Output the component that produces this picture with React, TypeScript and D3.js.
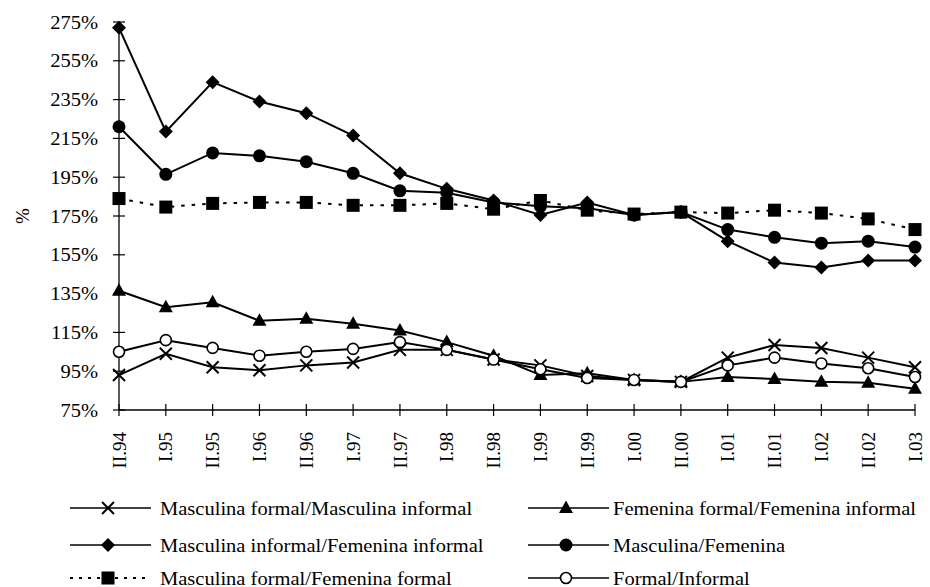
import React from "react";
import * as d3 from "d3";

const categories = ["II.94","I.95","II.95","I.96","II.96","I.97","II.97","I.98","II.98","I.99","II.99","I.00","II.00","I.01","II.01","I.02","II.02","I.03"];
const yTicks = [75, 95, 115, 135, 155, 175, 195, 215, 235, 255, 275];

const mascFormalInformal = [93, 104, 97, 95.5, 98, 99.5, 106, 106, 101, 98, 92.5, 90.5, 89.5, 102, 108.5, 107, 102, 97];
const femFormalInformal = [136.5, 128, 130.5, 121, 122, 119.5, 116, 110, 103, 93, 94, 90.5, 89.5, 92, 91, 89.5, 89, 86];
const mascInfFemInf = [272, 218.5, 244, 234, 228, 216.5, 197, 189, 183, 175.5, 182, 175.5, 177, 162, 151, 148.5, 152, 152];
const mascFem = [221, 196.5, 207.5, 206, 203, 197, 188, 187, 182, 180, 179, 175.5, 177, 168, 164, 161, 162, 159];
const mascFormalFemFormal = [184, 179.6, 181.5, 182, 182, 180.5, 180.5, 181.5, 178.5, 183, 178, 176, 177, 176.5, 178, 176.5, 173.5, 168];
const formalInformal = [105, 111, 107, 103, 105, 106.5, 110, 106, 101, 96, 91.5, 90.5, 89.5, 98, 102, 99, 96.5, 92];

const seriesNames = [
  "Masculina formal/Masculina informal",
  "Femenina formal/Femenina informal",
  "Masculina informal/Femenina informal",
  "Masculina/Femenina",
  "Masculina formal/Femenina formal",
  "Formal/Informal",
];

type MarkerKind = "x" | "triangle" | "diamond" | "circle" | "square" | "ocircle";

const series: { name: string; values: number[]; marker: MarkerKind; dashed: boolean }[] = [
  { name: seriesNames[0], values: mascFormalInformal, marker: "x", dashed: false },
  { name: seriesNames[1], values: femFormalInformal, marker: "triangle", dashed: false },
  { name: seriesNames[2], values: mascInfFemInf, marker: "diamond", dashed: false },
  { name: seriesNames[3], values: mascFem, marker: "circle", dashed: false },
  { name: seriesNames[4], values: mascFormalFemFormal, marker: "square", dashed: true },
  { name: seriesNames[5], values: formalInformal, marker: "ocircle", dashed: false },
];

const FONT = "'Liberation Serif', 'Times New Roman', Times, serif";
const FS = 19;
const SX = 1.08;

function Marker({ kind, x, y }: { kind: MarkerKind; x: number; y: number }) {
  const t = `translate(${x},${y})`;
  switch (kind) {
    case "x":
      return (
        <g transform={t} stroke="#000" strokeWidth={2}>
          <line x1={-6} y1={-6} x2={6} y2={6} />
          <line x1={-6} y1={6} x2={6} y2={-6} />
        </g>
      );
    case "triangle":
      return <path transform={t} d="M0,-7.5L7,5L-7,5Z" fill="#000" />;
    case "diamond":
      return <path transform={t} d="M0,-7L7,0L0,7L-7,0Z" fill="#000" />;
    case "circle":
      return <circle cx={x} cy={y} r={6.5} fill="#000" />;
    case "square":
      return <rect x={x - 6.5} y={y - 6.5} width={13} height={13} fill="#000" />;
    case "ocircle":
      return <circle cx={x} cy={y} r={5.5} fill="#fff" stroke="#000" strokeWidth={1.6} />;
  }
}

export default function App() {
  const width = 930;
  const height = 587;
  const x = d3.scalePoint<string>().domain(categories).range([119, 915]);
  const y = d3.scaleLinear().domain([75, 275]).range([410, 22]);

  const line = (vals: number[]) =>
    d3.line<number>().x((_, i) => x(categories[i]) as number).y((v) => y(v))(vals) || "";

  const legendCols = [70, 528];
  const legendText = [160, 613];
  const legendRows = [508, 545, 578];

  return (
    <svg
      width={width}
      height={height}
      style={{ position: "absolute", left: 0, top: 0, background: "#fff" }}
      fontFamily={FONT}
    >
      <rect width={width} height={height} fill="#fff" />
      {/* Y axis */}
      <line x1={119} x2={119} y1={y(275)} y2={y(75)} stroke="#000" strokeWidth={1.3} />
      {yTicks.map((t) => (
        <g key={t}>
          <line x1={113} x2={125} y1={y(t)} y2={y(t)} stroke="#000" strokeWidth={1.2} />
          <text
            transform={`translate(98,${y(t)}) scale(${SX},1)`}
            textAnchor="end"
            dy="0.35em"
            fontSize={FS}
          >
            {t}%
          </text>
        </g>
      ))}
      <text transform="translate(22,216) rotate(-90)" textAnchor="middle" dy="0.35em" fontSize={FS}>
        %
      </text>
      {/* X axis */}
      <line x1={119} x2={915} y1={410} y2={410} stroke="#000" strokeWidth={1.3} />
      {categories.map((c) => (
        <g key={c + "t"}>
          <line x1={x(c)} x2={x(c)} y1={404} y2={416} stroke="#000" strokeWidth={1.2} />
          <text
            transform={`translate(${x(c)},432) rotate(-90)`}
            textAnchor="end"
            dy="0.35em"
            fontSize={FS}
          >
            {c}
          </text>
        </g>
      ))}
      {/* Lines */}
      {series.map((s) => (
        <path
          key={s.name + "l"}
          d={line(s.values)}
          fill="none"
          stroke="#000"
          strokeWidth={2}
          strokeDasharray={s.dashed ? "3.5,7" : undefined}
        />
      ))}
      {/* Markers */}
      {series.map((s) => (
        <g key={s.name + "m"}>
          {s.values.map((v, i) => (
            <Marker key={i} kind={s.marker} x={x(categories[i]) as number} y={y(v)} />
          ))}
        </g>
      ))}
      {/* Legend */}
      {series.map((s, i) => {
        const col = i % 2;
        const row = Math.floor(i / 2);
        const lx = legendCols[col];
        const ly = legendRows[row];
        return (
          <g key={s.name + "lg"}>
            <line
              x1={lx}
              x2={lx + 81}
              y1={ly}
              y2={ly}
              stroke="#000"
              strokeWidth={s.dashed ? 2 : 1.6}
              strokeDasharray={s.dashed ? "3,6" : undefined}
            />
            <Marker kind={s.marker} x={lx + 38} y={ly} />
            <text
              transform={`translate(${legendText[col]},${ly}) scale(${SX},1)`}
              dy="0.35em"
              fontSize={FS}
            >
              {s.name}
            </text>
          </g>
        );
      })}
    </svg>
  );
}
